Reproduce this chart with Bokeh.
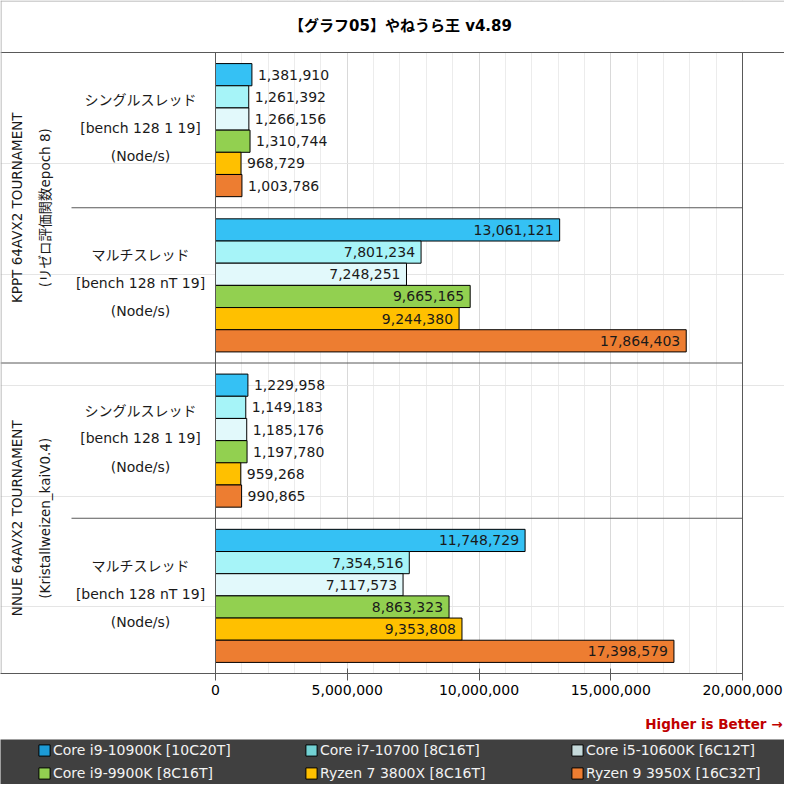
import math
from bokeh.plotting import figure
from bokeh.models import (ColumnDataSource, Range1d, FixedTicker, NumeralTickFormatter,
                          Legend, LegendItem)
from bokeh.layouts import column
from bokeh.core.properties import value
from bokeh.embed import file_html
from bokeh.resources import INLINE

# ---------------- data ----------------
title_text = "【グラフ05】やねうら王 v4.89"
cpus = ["Core i9-10900K [10C20T]", "Core i7-10700 [8C16T]", "Core i5-10600K [6C12T]",
        "Core i9-9900K [8C16T]", "Ryzen 7 3800X [8C16T]", "Ryzen 9 3950X [16C32T]"]
bar_colors = ["#35c1f4", "#a6f4f8", "#e2f9fb", "#92d050", "#ffc000", "#ed7d31"]
legend_colors = ["#1c9bd6", "#72d1d3", "#c5d9da", "#92d050", "#ffc000", "#ed7d31"]
groups = ["KPPT 64AVX2 TOURNAMENT", "NNUE 64AVX2 TOURNAMENT"]
group_subtitles = ["(リゼロ評価関数epoch 8)", "(Kristallweizen_kaiV0.4)"]
subgroups = ["シングルスレッド", "マルチスレッド"]
bench_cmds = ["[bench 128 1 19]", "[bench 128 nT 19]"]
unit_label = "(Node/s)"
kppt_single = [1381910, 1261392, 1266156, 1310744, 968729, 1003786]
kppt_multi = [13061121, 7801234, 7248251, 9665165, 9244380, 17864403]
nnue_single = [1229958, 1149183, 1185176, 1197780, 959268, 990865]
nnue_multi = [11748729, 7354516, 7117573, 8863323, 9353808, 17398579]
x_max = 20_000_000
x_major_step = 5_000_000
x_minor_step = 1_000_000
note_text = "Higher is Better →"

FONT = "DejaVu Sans, Noto Sans CJK JP"
LINE = "#595959"

# ---------------- layout (pixels) ----------------
W = 784
PH = 705            # main figure height
FL, FR = 215, 742   # pixel x of 0 and of x_max
PT, PB = 52, 673    # pixel y of top of first group and of the axis
SLOT = 7            # units per sub-group (6 bars + padding)
NY = 4 * SLOT


def xd(px):
    return (px - FL) / (FR - FL) * x_max


def yd(py):
    return (py - PT) / (PB - PT) * NY


p = figure(width=W, height=PH, output_backend="svg", toolbar_location=None,
           x_range=Range1d(xd(0), xd(W)), y_range=Range1d(NY, yd(0)),
           min_border_left=0, min_border_right=0, min_border_top=0,
           min_border_bottom=PH - PB, y_axis_location=None)
p.background_fill_color = "white"
p.border_fill_color = "white"
p.outline_line_color = None

ax = p.xaxis[0]
ax.ticker = FixedTicker(ticks=list(range(0, x_max + 1, x_major_step)),
                        minor_ticks=[t for t in range(0, x_max + 1, x_minor_step)
                                     if t % x_major_step])
ax.bounds = (xd(0), x_max)
ax.formatter = NumeralTickFormatter(format="0,0")
ax.axis_line_color = LINE
ax.major_tick_line_color = LINE
ax.major_tick_in = 5
ax.major_tick_out = 7
ax.minor_tick_line_color = None
ax.major_label_text_font = FONT
ax.major_label_text_font_size = "14px"
ax.major_label_text_color = "#000000"
ax.major_label_standoff = 4

p.xgrid.grid_line_color = "#d9d9d9"
p.xgrid.minor_grid_line_color = "#ececec"

# mask the grid above the plotting area (title band)
p.quad(left=[xd(0)], right=[xd(W)], top=[yd(0)], bottom=[0], fill_color="white",
       line_color=None)

series = [kppt_single, kppt_multi, nnue_single, nnue_multi]
rows = dict(y=[], right=[], color=[])
outside = dict(y=[], x=[], label=[])
inside = dict(y=[], x=[], label=[])
for k, vals in enumerate(series):
    for i, v in enumerate(vals):
        y = SLOT * k + 1 + i
        rows["y"].append(y)
        rows["right"].append(v)
        rows["color"].append(bar_colors[i])
        tgt = inside if k % 2 == 1 else outside
        tgt["y"].append(y)
        tgt["x"].append(v)
        tgt["label"].append(f"{v:,}")

p.hbar(y="y", left=0, right="right", height=1, fill_color="color", line_color="#000000",
       line_width=1, source=ColumnDataSource(rows))
p.text(x="x", y="y", text="label", source=ColumnDataSource(outside), x_offset=6,
       text_align="left", text_baseline="middle", text_font=value(FONT),
       text_font_size="14px", text_color="#1a1a1a")
p.text(x="x", y="y", text="label", source=ColumnDataSource(inside), x_offset=-6,
       text_align="right", text_baseline="middle", text_font=value(FONT),
       text_font_size="14px", text_color="#1a1a1a")

# frame / separator lines
seg = dict(x0=[], y0=[], x1=[], y1=[])
def add_seg(x0, y0, x1, y1):
    seg["x0"].append(x0); seg["y0"].append(y0); seg["x1"].append(x1); seg["y1"].append(y1)

add_seg(0, 0, 0, NY)                 # value axis line
add_seg(x_max, 0, x_max, NY)         # right edge of plot area
add_seg(xd(0), 0, xd(W), 0)          # below the title
add_seg(xd(0), 2 * SLOT, x_max, 2 * SLOT)
add_seg(xd(71), SLOT, x_max, SLOT)
add_seg(xd(71), 3 * SLOT, x_max, 3 * SLOT)
p.segment(x0="x0", y0="y0", x1="x1", y1="y1", source=ColumnDataSource(seg),
          line_color=LINE, line_width=1)
# outer frame of the picture
p.segment(x0=[xd(0.5), xd(0)], y0=[yd(0), yd(0.5)], x1=[xd(0.5), xd(W)], y1=[NY, yd(0.5)],
          line_color="#a6a6a6", line_width=1)

# title
p.text(x=[xd(400)], y=[yd(25)], text=[title_text], text_align="center",
       text_baseline="middle", text_font=value(FONT), text_font_size="15px",
       text_font_style="bold", text_color="#000000")

# group / sub-group labels
gl = dict(x=[], y=[], text=[])
sl = dict(x=[], y=[], text=[])
for g in range(2):
    yc = SLOT * (2 * g + 1)
    gl["x"] += [xd(16), xd(44)]
    gl["y"] += [yc, yc]
    gl["text"] += [groups[g], group_subtitles[g]]
    for s in range(2):
        base = SLOT * (2 * g + s)
        for txt, off in zip([subgroups[s], bench_cmds[s], unit_label], [2.15, 3.4, 4.67]):
            sl["x"].append(xd(140))
            sl["y"].append(base + off)
            sl["text"].append(txt)

p.text(x="x", y="y", text="text", source=ColumnDataSource(gl), angle=math.pi / 2,
       text_align="center", text_baseline="middle", text_font=value(FONT),
       text_font_size="13.5px", text_color="#1a1a1a")
p.text(x="x", y="y", text="text", source=ColumnDataSource(sl), text_align="center",
       text_baseline="middle", text_font=value(FONT), text_font_size="14px",
       text_color="#1a1a1a")

# ---------------- note + legend band ----------------
LH = W - PH
lg = figure(width=W, height=LH, output_backend="svg", toolbar_location=None,
            x_range=Range1d(0, 1), y_range=Range1d(0, 1), min_border=0, min_border_top=34,
            x_axis_location=None, y_axis_location=None, title=note_text)
lg.title.align = "right"
lg.title.offset = 2
lg.title.text_color = "#c00000"
lg.title.text_font = FONT
lg.title.text_font_size = "13.5px"
lg.title.text_font_style = "bold"
lg.title.standoff = 16
lg.background_fill_color = "#404040"
lg.border_fill_color = "white"
lg.outline_line_color = None
lg.grid.grid_line_color = None

nan = float("nan")
rends = [lg.quad(left=[nan], right=[nan], top=[nan], bottom=[nan], fill_color=c,
                 line_color="#000000") for c in legend_colors]

col_x = [37, 304, 570]
for ci in range(3):
    items = [LegendItem(label=cpus[ci], renderers=[rends[ci]]),
             LegendItem(label=cpus[ci + 3], renderers=[rends[ci + 3]])]
    leg = Legend(items=items, location=(col_x[ci], 3), orientation="vertical", padding=0,
                 margin=0, spacing=7, glyph_width=14, glyph_height=14, label_standoff=2,
                 label_text_font=FONT, label_text_font_size="14px", label_text_color="#f2f2f2",
                 background_fill_alpha=0, border_line_color=None)
    lg.add_layout(leg)

layout = column(p, lg, spacing=0)
open("out.html", "w").write(file_html(layout, INLINE))
